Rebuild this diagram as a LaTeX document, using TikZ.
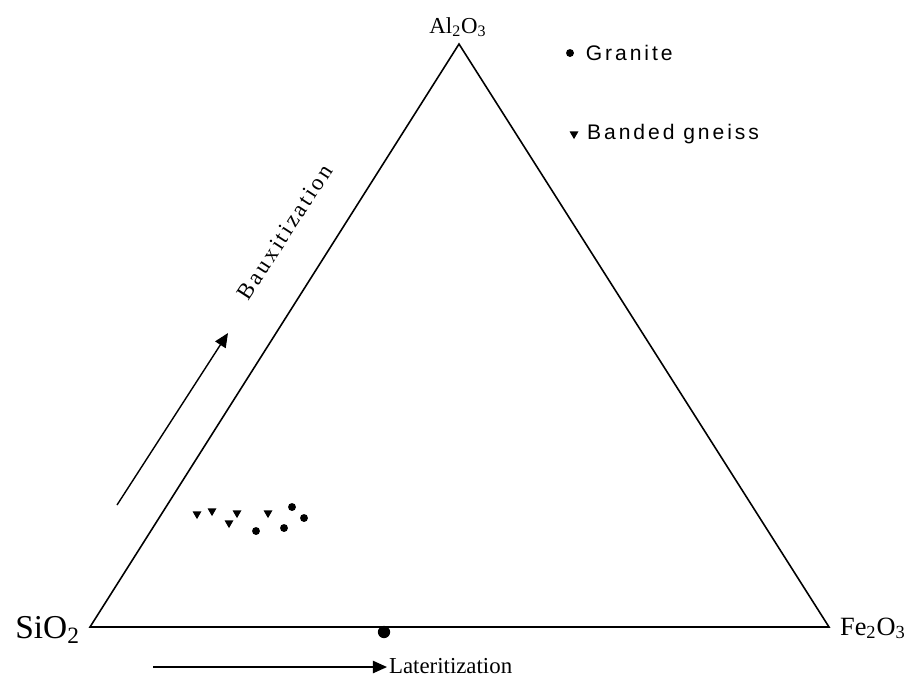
\documentclass[tikz,border=0pt]{standalone}
\usepackage{fontspec}
\setmainfont{Liberation Serif}
\newfontfamily\legendfont{Liberation Sans}[LetterSpace=14]
\newfontfamily\spacedserif{Liberation Serif}[LetterSpace=12]
\usetikzlibrary{arrows.meta}
\usetikzlibrary{positioning}
\usetikzlibrary{shapes.geometric}

\begin{document}
\begin{tikzpicture}[x=0.02cm,y=-0.02cm,
    rockdot/.style={circle, fill, inner sep=0pt, minimum size=4.5pt},
    gneissmark/.style={regular polygon, regular polygon sides=3, shape border rotate=180, fill, inner sep=0pt, minimum size=5.8pt},
    trend/.style={line width=0.8pt, -{Triangle[length=8pt,width=7pt]}}]
        \useasboundingbox (0,0) rectangle (911,681);

        % corners of the diagram
        \coordinate (si) at (90,627);
        \coordinate (al) at (459,44);
        \coordinate (fe) at (829,627);
        \draw [line width=0.9pt] (si) -- (al) -- (fe) -- cycle;

        \node (alLabel) at (458,27) {\fontsize{13}{15}\selectfont Al\textsubscript{2}O\textsubscript{3}};
        \node [anchor=base east, inner sep=1pt] (siLabel) at (82,638) {\fontsize{19}{21}\selectfont SiO\textsubscript{2}};
        \node [anchor=base west, inner sep=1pt] (feLabel) at (838,635) {\fontsize{15}{17}\selectfont Fe\textsubscript{2}O\textsubscript{3}};

        % legend
        \node [rockdot] (gDot) at (570,53) {};
        \node [right = 3pt of gDot] (granite) {\legendfont\fontsize{12}{14}\selectfont Granite};
        \node [gneissmark] (bMark) at (574,134) {};
        \node [right = 2pt of bMark] (gneiss) {\legendfont\fontsize{12}{14}\selectfont Banded gneiss};

        % samples
        \node [gneissmark] (s1) at (197,514) {};
        \node [gneissmark] (s2) at (212,511) {};
        \node [gneissmark] (s3) at (237,513) {};
        \node [gneissmark] (s4) at (229,523) {};
        \node [gneissmark] (s5) at (268,513) {};
        \node [rockdot] (s6) at (256,531) {};
        \node [rockdot] (s7) at (284,528) {};
        \node [rockdot] (s8) at (292,507) {};
        \node [rockdot] (s9) at (304,518) {};
        \node [circle, fill, inner sep=0pt, minimum size=7pt] (s10) at (384,632) {};

        % trends
        \coordinate (bStart) at (117,505);
        \coordinate (bEnd) at (228,333);
        \draw [trend] (bStart) -- (bEnd);
        \node [rotate=57] (baux) at (285,232) {\spacedserif\fontsize{13}{15}\selectfont Bauxitization};

        \coordinate (lStart) at (153,667);
        \node [anchor=base west, inner sep=1pt] (laterite) at (387,673) {\fontsize{13}{15}\selectfont Lateritization};
        \draw [trend] (lStart) -- (laterite.west |- lStart);
\end{tikzpicture}
\end{document}
